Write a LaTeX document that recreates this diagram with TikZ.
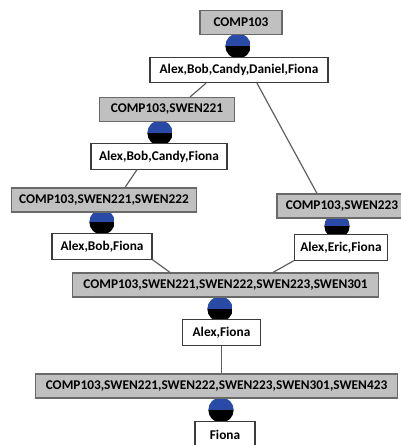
\documentclass[tikz,border=0pt]{standalone}
\usepackage{fontspec}
\setmainfont{Carlito}
\usepackage{tikz}
\definecolor{intentgray}{RGB}{192,192,192}
\definecolor{intentline}{RGB}{105,105,105}
\definecolor{extentline}{RGB}{60,60,60}
\definecolor{dotblue}{RGB}{42,74,168}
\definecolor{linkgray}{RGB}{95,95,95}

\tikzset{
  boxfont/.style={font=\bfseries\fontsize{10}{12}\selectfont},
  intent/.style={draw=intentline, fill=intentgray, line width=0.8pt, boxfont,
    minimum height=18pt, inner xsep=2pt, inner ysep=0pt},
  extent/.style={draw=extentline, fill=white, line width=0.8pt, boxfont,
    minimum height=19pt, inner xsep=2pt, inner ysep=0pt},
  conceptdot/.style={circle, minimum size=19pt, inner sep=0pt,
    path picture={
      \fill[dotblue] (path picture bounding box.north west) rectangle (path picture bounding box.east);
      \fill[black] (path picture bounding box.west) rectangle (path picture bounding box.south east);
    }},
  link/.style={draw=linkgray, line width=0.9pt}
}

\begin{document}
\begin{tikzpicture}[x=0.75pt,y=0.75pt,yscale=-1,xscale=1]
\useasboundingbox (0,0) rectangle (400,445);

%Concept dots
\node [conceptdot] (d1) at (238,46) {};
\node [conceptdot] (d2) at (160,133) {};
\node [conceptdot] (d3) at (102,222) {};
\node [conceptdot] (d4) at (337,226) {};
\node [conceptdot] (d5) at (220,309) {};
\node [conceptdot] (d6) at (221,410) {};

% Intent Nodes
\node [intent, minimum width=61.5pt] (i1) at (241,22.5) {COMP103};
\node [intent, minimum width=101pt] (i2) at (167,109.5) {COMP103,SWEN221};
\node [intent, minimum width=139pt] (i3) at (104,200) {COMP103,SWEN221,SWEN222};
\node [intent, minimum width=97.5pt] (i4) at (342,206) {COMP103,SWEN223};
\node [intent, minimum width=229pt] (i5) at (225.5,285) {COMP103,SWEN221,SWEN222,SWEN223,SWEN301};
\node [intent, minimum width=272pt] (i6) at (216.5,386) {COMP103,SWEN221,SWEN222,SWEN223,SWEN301,SWEN423};

% Extent Nodes
\node [extent, minimum width=133.5pt] (e1) at (239,70) {Alex,Bob,Candy,Daniel,Fiona};
\node [extent, minimum width=102pt] (e2) at (159,156.5) {Alex,Bob,Candy,Fiona};
\node [extent, minimum width=75pt] (e3) at (102,246.5) {Alex,Bob,Fiona};
\node [extent, minimum width=70pt] (e4) at (341,247.5) {Alex,Eric,Fiona};
\node [extent, minimum width=58pt] (e5) at (221.5,332.5) {Alex,Fiona};
\node [extent, minimum width=45pt] (e6) at (225,434.5) {Fiona};

%Straight Lines
\draw [link] ([xshift=-24.75pt]e1.south) -- ([xshift=17.25pt]i2.north);
\draw [link] ([xshift=13.5pt]e1.south) -- ([xshift=-18.75pt]i4.north);
\draw [link] ([xshift=-16.5pt]e2.south) -- ([xshift=15.75pt]i3.north);
\draw [link] (e3.south east) -- ([xshift=-41.6pt]i5.north);
\draw [link] (e4.south west) -- ([xshift=35.6pt]i5.north);
\draw [link] (e5.south) -- (e5.south |- i6.north);

\end{tikzpicture}
\end{document}
